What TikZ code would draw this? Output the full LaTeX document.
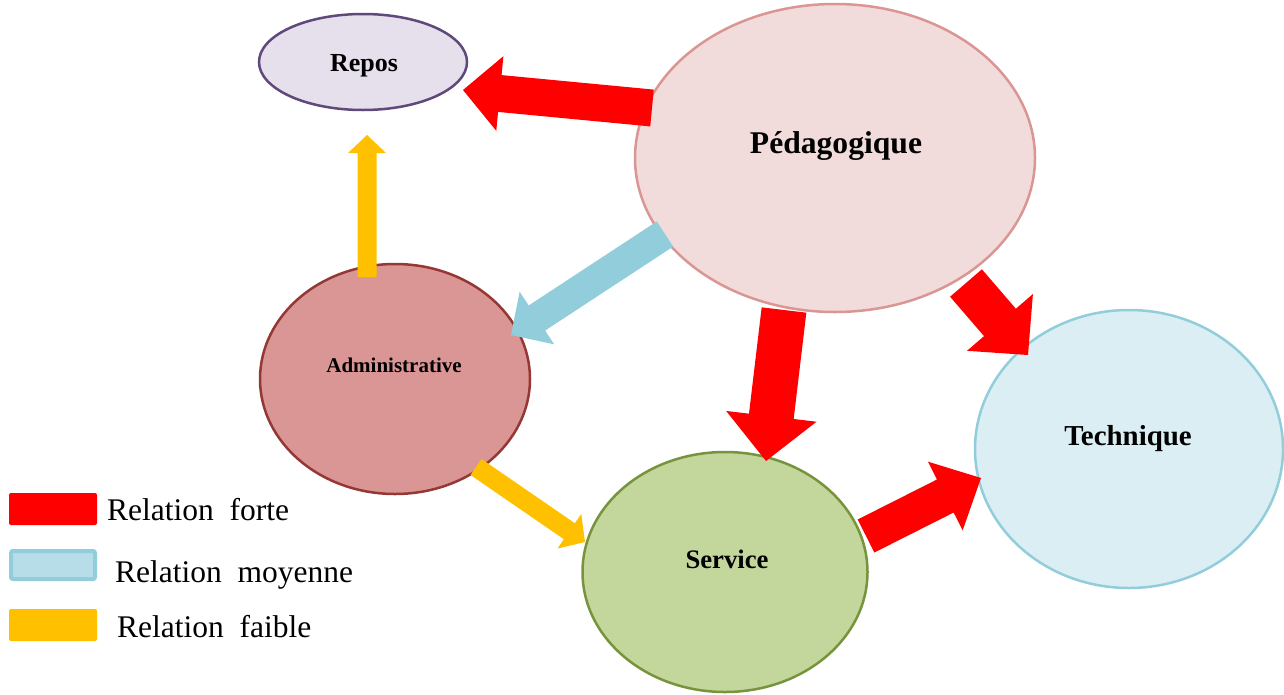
\documentclass[tikz,border=0pt]{standalone}
\usepackage{fontspec}
\setmainfont{Liberation Serif}
\usetikzlibrary{shapes.geometric,calc}
\definecolor{arrred}{HTML}{FF0000}
\definecolor{arrblue}{HTML}{92CDDC}
\definecolor{arryel}{HTML}{FFC000}
\definecolor{repfill}{HTML}{E6DFEC}
\definecolor{repline}{HTML}{5F497A}
\definecolor{pedfill}{HTML}{F2DCDB}
\definecolor{pedline}{HTML}{D99694}
\definecolor{admfill}{HTML}{D99694}
\definecolor{admline}{HTML}{953735}
\definecolor{tecfill}{HTML}{DBEEF4}
\definecolor{tecline}{HTML}{92CDDC}
\definecolor{serfill}{HTML}{C3D69B}
\definecolor{serline}{HTML}{77933C}
\definecolor{legblue}{HTML}{B7DEE8}
\newcommand\blockarrow[6]{% colour, from, to, half shaft, half head, head length
  \coordinate (ba-b) at ($(#3)!#6pt!(#2)$);
  \fill[#1] ($(#2)!#4pt!90:(#3)$) -- ($(ba-b)!#4pt!90:(#3)$) -- ($(ba-b)!#5pt!90:(#3)$)
    -- (#3) -- ($(ba-b)!#5pt!-90:(#3)$) -- ($(ba-b)!#4pt!-90:(#3)$) -- ($(#2)!#4pt!-90:(#3)$) -- cycle;
}
\tikzset{
  bubble/.style={ellipse, inner sep=0pt, line width=2.5pt},
  title/.style={font=\bfseries, anchor=base, inner sep=0pt},
  legtext/.style={anchor=base west, inner sep=0pt, font=\fontsize{31.5}{36}\selectfont},
}
\begin{document}
\begin{tikzpicture}[x=1pt,y=-1pt]
\useasboundingbox (0,0) rectangle (1284,694);
% ellipses
\node[bubble, draw=repline, fill=repfill, minimum width=208pt, minimum height=96pt] (repos) at (363,62) {};
\node[bubble, draw=pedline, fill=pedfill, minimum width=400pt, minimum height=308pt] (ped) at (835,158) {};
\node[bubble, draw=admline, fill=admfill, minimum width=270pt, minimum height=230pt] (adm) at (395,379) {};
\node[bubble, draw=tecline, fill=tecfill, minimum width=308pt, minimum height=278pt] (tec) at (1129,449) {};
\node[bubble, draw=serline, fill=serfill, minimum width=285pt, minimum height=240pt] (ser) at (725,572) {};
% titles
\node[title, font=\bfseries\fontsize{26}{30}\selectfont] (reposT) at (364,71) {Repos};
\node[title, font=\bfseries\fontsize{31.6}{36}\selectfont] (pedT) at (836,153) {Pédagogique};
\node[title, font=\bfseries\fontsize{28.9}{33}\selectfont] (tecT) at (1128,445) {Technique};
\node[title, font=\bfseries\fontsize{26.7}{30}\selectfont] (serT) at (727,568) {Service};
\node[title, font=\bfseries\fontsize{21}{25}\selectfont] (admT) at (394,372) {Administrative};
% arrow end points
\coordinate (a1s) at (652,108); \coordinate (a1e) at (463,90);
\coordinate (a2s) at (665,234); \coordinate (a2e) at (511,335);
\coordinate (a3s) at (784,310); \coordinate (a3e) at (766,461);
\coordinate (a4s) at (966,283); \coordinate (a4e) at (1028,355);
\coordinate (a5s) at (866,536); \coordinate (a5e) at (981,478);
\coordinate (a6s) at (476,467); \coordinate (a6e) at (585,542);
\coordinate (a7s) at (367,277); \coordinate (a7e) at (367,135);
\blockarrow{arrred}{a1s}{a1e}{18.5}{37.5}{37}
\blockarrow{arrblue}{a2s}{a2e}{15}{31.5}{31}
\blockarrow{arrred}{a3s}{a3e}{22.5}{45.5}{45}
\blockarrow{arrred}{a4s}{a4e}{21}{43.5}{43}
\blockarrow{arrred}{a5s}{a5e}{18.5}{38.5}{40}
\blockarrow{arryel}{a6s}{a6e}{9.7}{21}{19}
\blockarrow{arryel}{a7s}{a7e}{9.5}{19}{18}
% legend
\fill[arrred, rounded corners=2pt] (9,493) rectangle (97,525);
\draw[arrblue, fill=legblue, line width=4pt, rounded corners=2pt] (11,551) rectangle (95,579);
\fill[arryel, rounded corners=2pt] (9,609) rectangle (97,641);
\node[legtext] (l1) at (107,520) {Relation\ \ forte};
\node[legtext] (l2) at (115,582) {Relation\ \ moyenne};
\node[legtext] (l3) at (117,637) {Relation\ \ faible};
\end{tikzpicture}
\end{document}
